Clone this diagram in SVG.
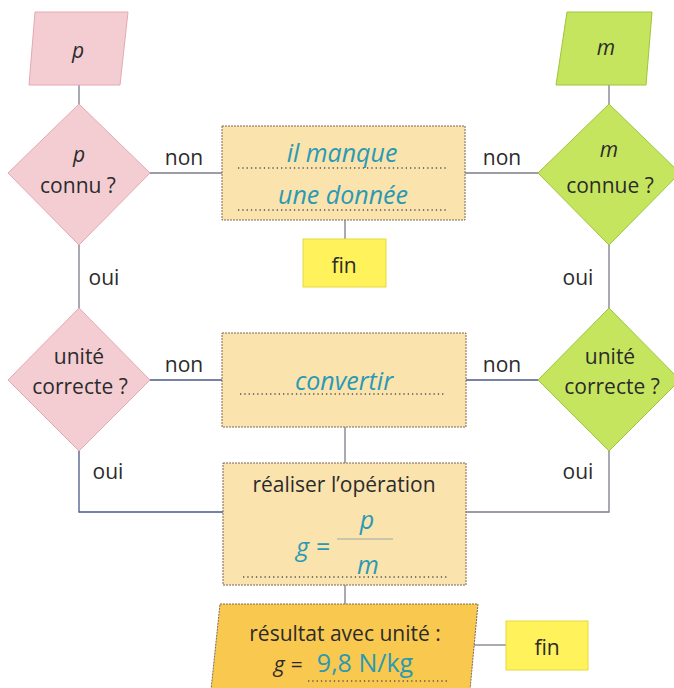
<svg xmlns="http://www.w3.org/2000/svg" width="674" height="688" viewBox="0 0 674 688">
<style>
.pink{fill:#f4cdd3;stroke:#e4a9b4;stroke-width:1}
.green{fill:#c6e55e;stroke:#9cc63a;stroke-width:1}
.peach{fill:#fbe3ae;stroke:#7d6a55;stroke-width:1;stroke-dasharray:2 1}
.yellow{fill:#fff25a;stroke:#e8d840;stroke-width:1}
.orange{fill:#f9c84f;stroke:#7d6a55;stroke-width:1;stroke-dasharray:2 1}
.t{font-family:"Open Sans","Noto Sans",sans-serif;font-size:21px;fill:#2b2b2b;text-anchor:middle}
.ti{font-style:italic}
.teal{font-family:"Open Sans","Noto Sans",sans-serif;font-size:25px;fill:#2a9ab4;text-anchor:middle;font-style:italic}
.dot{stroke:#555;stroke-width:1.3;stroke-dasharray:1.3 3;fill:none}
.c{stroke:#7c7c8c;stroke-width:1.3;fill:none}
.cb{stroke:#4a5a88;stroke-width:1.3;fill:none}
</style>
<rect width="674" height="688" fill="#ffffff"/>
<g id="connectors">
<line class="c" x1="79" y1="85" x2="79" y2="104"/>
<line class="c" x1="609" y1="85" x2="609" y2="104"/>
<line class="c" x1="150" y1="173" x2="222" y2="173"/>
<line class="c" x1="465" y1="173" x2="538" y2="173"/>
<line class="c" x1="345" y1="220" x2="345" y2="239"/>
<line class="c" x1="79" y1="245" x2="79" y2="308"/>
<line class="c" x1="609" y1="245" x2="609" y2="308"/>
<line class="cb" x1="150" y1="380" x2="222" y2="380"/>
<line class="cb" x1="466" y1="380" x2="538" y2="380"/>
<line class="c" x1="345" y1="427" x2="345" y2="463"/>
<polyline class="cb" points="79,451 79,512 223,512"/>
<polyline class="c" points="609,451 609,512 466,512"/>
<line class="c" x1="345" y1="585" x2="345" y2="604"/>
<line class="c" x1="474" y1="645" x2="506" y2="645"/>
<text class="t" x="184" y="165">non</text>
<text class="t" x="502" y="165">non</text>
<text class="t" x="104" y="285">oui</text>
<text class="t" x="578" y="285">oui</text>
<text class="t" x="184" y="372">non</text>
<text class="t" x="502" y="372">non</text>
<text class="t" x="108" y="479">oui</text>
<text class="t" x="578" y="479">oui</text>
</g>
<g id="input-p">
<polygon class="pink" points="35,12 128,12 120,85 29,85"/>
<text class="t ti" x="78" y="58">p</text>
</g>
<g id="input-m">
<polygon class="green" points="567,12 652,12 646,85 556,85"/>
<text class="t ti" x="606" y="55">m</text>
</g>
<g id="p-connu">
<polygon class="pink" points="79,104 150,173 79,245 8,173"/>
<text class="t ti" x="79" y="162">p</text>
<text class="t" x="78" y="193">connu ?</text>
</g>
<g id="m-connue">
<polygon class="green" points="609,104 680,173 609,245 538,173"/>
<text class="t ti" x="609" y="157">m</text>
<text class="t" x="610" y="193">connue ?</text>
</g>
<g id="manque">
<rect class="peach" x="222" y="126" width="243" height="94"/>
<text class="teal" x="342" y="162">il manque</text>
<line class="dot" x1="238" y1="168" x2="446" y2="168"/>
<text class="teal" x="343" y="204">une donnée</text>
<line class="dot" x1="238" y1="210" x2="446" y2="210"/>
</g>
<g id="fin1">
<rect class="yellow" x="303" y="239" width="83" height="48"/>
<text class="t" x="344" y="273">fin</text>
</g>
<g id="unite-p">
<polygon class="pink" points="79,308 150,380 79,451 8,380"/>
<text class="t" x="79" y="364">unité</text>
<text class="t" x="80" y="394">correcte ?</text>
</g>
<g id="unite-m">
<polygon class="green" points="609,308 680,380 609,451 538,380"/>
<text class="t" x="610" y="364">unité</text>
<text class="t" x="612" y="394">correcte ?</text>
</g>
<g id="convertir">
<rect class="peach" x="222" y="333" width="244" height="94"/>
<text class="teal" x="344" y="390">convertir</text>
<line class="dot" x1="240" y1="394" x2="446" y2="394"/>
</g>
<g id="realiser">
<rect class="peach" x="223" y="463" width="243" height="122"/>
<text class="t" x="344" y="492">réaliser l’opération</text>
<text class="teal" x="313" y="556">g =</text>
<text class="teal" x="367" y="529">p</text>
<line x1="337" y1="539" x2="393" y2="539" stroke="#9aa" stroke-width="1"/>
<text class="teal" x="368" y="574">m</text>
<line class="dot" x1="243" y1="577" x2="448" y2="577"/>
</g>
<g id="resultat">
<polygon class="orange" points="220,604 478,604 470,690 211,690"/>
<text class="t" x="345" y="641">résultat avec unité :</text>
<text class="t ti" x="288" y="672">g =</text>
<text class="teal" x="365" y="672" style="font-style:normal">9,8 N/kg</text>
<line class="dot" x1="308" y1="681" x2="447" y2="681"/>
</g>
<g id="fin2">
<rect class="yellow" x="506" y="621" width="82" height="49"/>
<text class="t" x="547" y="655">fin</text>
</g>
</svg>
